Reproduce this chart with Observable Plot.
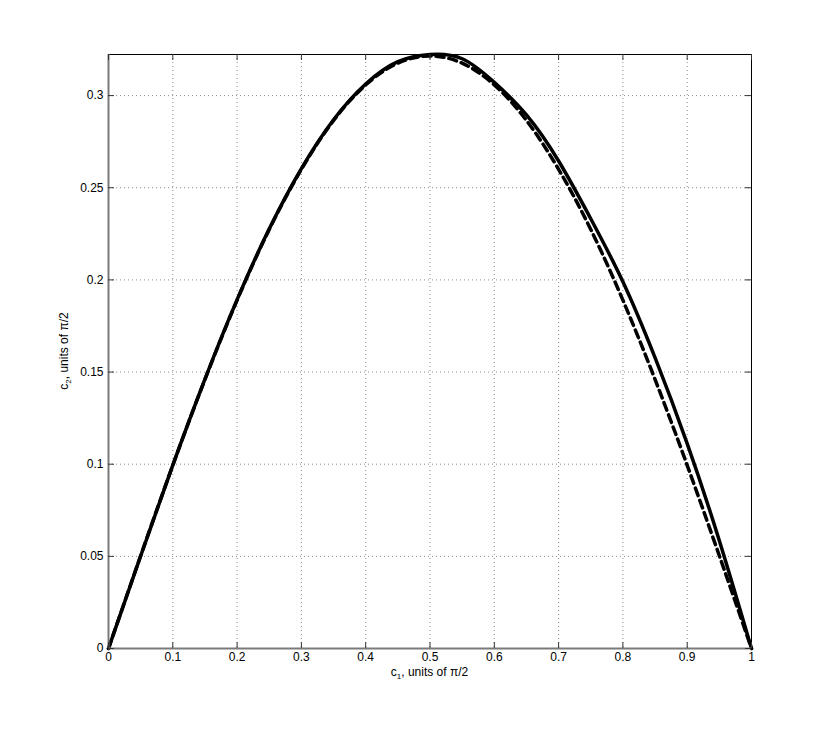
<!DOCTYPE html>
<html>
<head>
<meta charset="utf-8">
<script src="https://cdn.jsdelivr.net/npm/d3@7"></script>
<script src="https://cdn.jsdelivr.net/npm/@observablehq/plot@0.6"></script>
<style>
  html, body { margin: 0; padding: 0; background: #fff; }
  svg { display: block; }
</style>
</head>
<body>
<div id="chart"></div>
<script>
// c1 values (units of pi/2)
const c1Values = [0, 0.05, 0.1, 0.15, 0.2, 0.25, 0.3, 0.35, 0.4, 0.45, 0.5,
                  0.55, 0.6, 0.65, 0.7, 0.75, 0.8, 0.85, 0.9, 0.95, 1];
// solid curve c2 values
const solidC2 = [0, 0.0502, 0.0995, 0.1462, 0.1893, 0.2277, 0.2604, 0.2869, 0.3063, 0.3184, 0.3223,
                 0.3200, 0.3072, 0.2895, 0.2645, 0.2332, 0.1990, 0.1578, 0.1112, 0.0585, 0];
// dashed curve c2 values
const dashedC2 = [0, 0.0503, 0.0994, 0.1460, 0.1890, 0.2274, 0.2600, 0.2865, 0.3058, 0.3176, 0.3215,
                  0.3176, 0.3058, 0.2865, 0.2600, 0.2274, 0.1890, 0.1460, 0.0994, 0.0503, 0];
const xTicks = [0, 0.1, 0.2, 0.3, 0.4, 0.5, 0.6, 0.7, 0.8, 0.9, 1];
const yTicks = [0, 0.05, 0.1, 0.15, 0.2, 0.25, 0.3];

const solidData = c1Values.map((x, i) => ({x, y: solidC2[i]}));
const dashedData = c1Values.map((x, i) => ({x, y: dashedC2[i]}));

const W = 830, H = 729;
const mL = 108, mR = 79, mT = 54, mB = 81;
const innerW = W - mL - mR, innerH = H - mT - mB;
const tickLen = 6;

const svg = Plot.plot({
  width: W, height: H,
  marginLeft: mL, marginRight: mR, marginTop: mT, marginBottom: mB,
  x: {domain: [0, 1]},
  y: {domain: [0, d3.max(solidC2)]},
  style: {fontFamily: "'Liberation Sans', Helvetica, Arial, sans-serif", fontSize: "12px", background: "#fff", color: "#000"},
  marks: [
    Plot.gridX(xTicks, {stroke: "#8a8a8a", strokeOpacity: 1, strokeDasharray: "1,3"}),
    Plot.gridY(yTicks, {stroke: "#8a8a8a", strokeOpacity: 1, strokeDasharray: "1,3"}),
    Plot.line(solidData, {x: "x", y: "y", curve: "natural", stroke: "#000", strokeWidth: 3.5}),
    Plot.line(dashedData, {x: "x", y: "y", curve: "natural", stroke: "#000", strokeWidth: 3.5, strokeDasharray: "8,5"}),
    Plot.frame({stroke: "#000", strokeWidth: 1}),
    Plot.ruleX([0], {stroke: "#7a7a7a", strokeWidth: 2}),
    Plot.ruleY([0], {stroke: "#7a7a7a", strokeWidth: 2}),
    Plot.tickX(xTicks, {x: d => d, stroke: "#333", insetTop: innerH - tickLen}),
    Plot.tickX(xTicks, {x: d => d, stroke: "#333", insetBottom: innerH - tickLen}),
    Plot.tickY(yTicks, {y: d => d, stroke: "#333", insetRight: innerW - tickLen}),
    Plot.tickY(yTicks, {y: d => d, stroke: "#333", insetLeft: innerW - tickLen}),
    Plot.axisX({ticks: xTicks, tickSize: 0, tickPadding: 4, tickFormat: d => String(d), label: null}),
    Plot.axisY({ticks: yTicks, tickSize: 0, tickPadding: 5, tickFormat: d => String(d), label: null})
  ]
});

const s = d3.select(svg);
// x label
const xl = s.append("text")
  .attr("x", mL + innerW / 2)
  .attr("y", H - mB + 28)
  .attr("text-anchor", "middle")
  .attr("font-size", 12)
  .attr("fill", "#000");
xl.append("tspan").text("c");
xl.append("tspan").attr("dy", 3).attr("font-size", 8).text("1");
xl.append("tspan").attr("dy", -3).text(", units of π/2");

// y label
const yl = s.append("text")
  .attr("transform", `translate(68,${mT + innerH / 2}) rotate(-90)`)
  .attr("text-anchor", "middle")
  .attr("font-size", 12)
  .attr("fill", "#000");
yl.append("tspan").text("c");
yl.append("tspan").attr("dy", 3).attr("font-size", 8).text("2");
yl.append("tspan").attr("dy", -3).text(", units of π/2");

document.getElementById("chart").appendChild(svg);
</script>
</body>
</html>
